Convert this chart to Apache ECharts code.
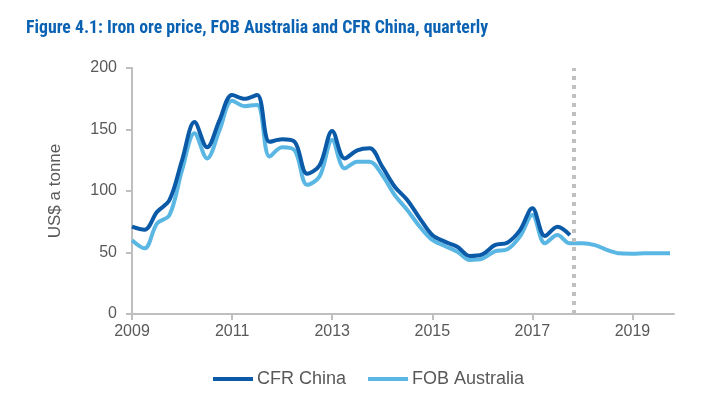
<!DOCTYPE html>
<html>
<head>
<meta charset="utf-8">
<script src="https://cdn.jsdelivr.net/npm/echarts@6/dist/echarts.min.js"></script>
<style>
html,body{margin:0;padding:0;background:#fff;}
#chart{width:704px;height:394px;}
</style>
</head>
<body>
<div id="chart"></div>
<script>
// Quarterly periods 2009Q1 .. 2019Q4
const quarters = [];
for (let y = 2009; y <= 2019; y++) for (let q = 1; q <= 4; q++) quarters.push(y + 'Q' + q);
const startYear = 2009;
const yearTicks = [2009, 2011, 2013, 2015, 2017, 2019];
const yTicks = [0, 50, 100, 150, 200];

const cfrChina = [71, 68.5, 83, 92.7, 125, 156, 135.5, 157.7, 178, 175, 178, 140,
  142, 140, 114, 121, 148.8, 126.5, 133, 134.7, 119.8, 103.5, 92.7, 77.8,
  64.2, 58.8, 54.7, 47.2, 48.5, 56, 58, 68, 86, 63.4, 71, 64.2];
const fobAustralia = [60, 53.4, 73.7, 80.5, 117, 147, 126.5, 149.6, 173.4, 169, 170, 128,
  135.5, 133, 105, 112, 141.5, 118.4, 123.8, 123.8, 113, 96.7, 84.6, 71,
  60.2, 55.3, 50.7, 43.9, 45, 51, 52.6, 62.9, 80.5, 57.5, 64.2, 57.5,
  57.5, 56, 52, 49.3, 49, 49.3, 49.3, 49.3];
const forecastStart = 8.82; // years after 2009 (dotted divider)

function toPairs(arr) { return arr.map((v, i) => [i / 4, v]); }

const chart = echarts.init(document.getElementById('chart'));
const axisGrey = '#bfbfbf';
const textGrey = '#595959';
chart.setOption({
  animation: false,
  title: {
    text: 'Figure 4.1: Iron ore price, FOB Australia and CFR China, quarterly',
    left: 21, top: 15,
    textStyle: { fontFamily: "'Liberation Sans Narrow', 'Roboto Condensed', 'Roboto'", fontWeight: 'bold', fontSize: 17.8, color: '#0b62b3' }
  },
  legend: {
    left: 208, top: 365,
    itemWidth: 40, itemHeight: 4, itemGap: 22,
    icon: 'rect',
    textStyle: { fontFamily: 'Liberation Sans', fontSize: 18, color: textGrey, padding: [0, 0, 0, -1] },
    data: ['CFR China', 'FOB Australia']
  },
  grid: { left: 132, right: 30, top: 68, bottom: 80 },
  xAxis: {
    type: 'value', min: 0, max: 10.83, interval: 2,
    axisLine: { lineStyle: { color: axisGrey, width: 2 } },
    axisTick: { show: true, length: 6, lineStyle: { color: axisGrey, width: 2 } },
    splitLine: { show: false },
    axisLabel: {
      fontFamily: 'Liberation Sans', fontSize: 16, color: textGrey, margin: 10,
      showMaxLabel: false,
      formatter: v => String(startYear + v)
    }
  },
  yAxis: {
    type: 'value', min: 0, max: 200, interval: 50,
    name: 'US$ a tonne', nameLocation: 'middle', nameGap: 68, nameRotate: 90,
    nameTextStyle: { fontFamily: 'Liberation Sans', fontSize: 17, color: textGrey },
    axisLine: { show: true, lineStyle: { color: axisGrey, width: 2 } },
    axisTick: { show: true, length: 6, lineStyle: { color: axisGrey, width: 2 } },
    splitLine: { show: false },
    axisLabel: { fontFamily: 'Liberation Sans', fontSize: 16, color: textGrey, margin: 15 }
  },
  series: [
    {
      name: 'CFR China', type: 'line', data: toPairs(cfrChina),
      smooth: 0.35, symbol: 'none', z: 3,
      lineStyle: { color: '#0a5aa8', width: 4 }, itemStyle: { color: '#0a5aa8' }
    },
    {
      name: 'FOB Australia', type: 'line', data: toPairs(fobAustralia),
      smooth: 0.35, symbol: 'none', z: 2,
      lineStyle: { color: '#5ab6e2', width: 4 }, itemStyle: { color: '#5ab6e2' },
      markLine: {
        silent: true, symbol: ['none', 'none'], label: { show: false },
        lineStyle: { color: '#c0c0c0', width: 4, type: [4, 5] },
        data: [[{ coord: [forecastStart, 0] }, { coord: [forecastStart, 200] }]]
      }
    }
  ]
});
</script>
</body>
</html>
